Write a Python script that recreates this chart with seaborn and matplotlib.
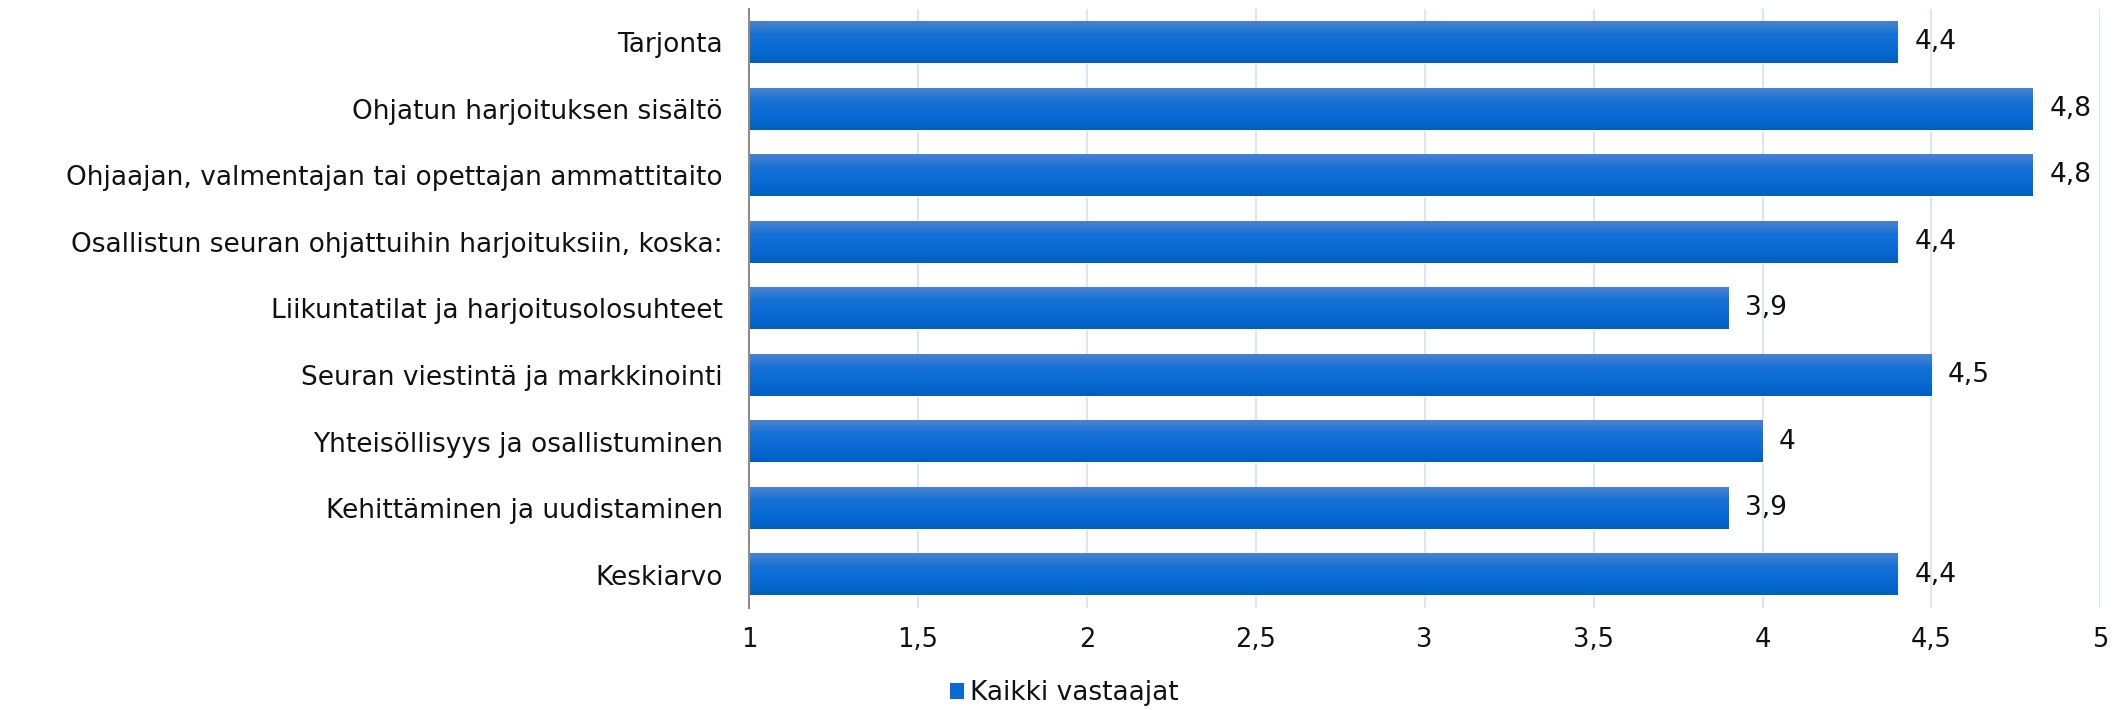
import numpy as np
import pandas as pd
import matplotlib
matplotlib.use("Agg")
import matplotlib.pyplot as plt
import seaborn as sns
from matplotlib.patches import Patch

categories = [
    "Tarjonta",
    "Ohjatun harjoituksen sisältö",
    "Ohjaajan, valmentajan tai opettajan ammattitaito",
    "Osallistun seuran ohjattuihin harjoituksiin, koska:",
    "Liikuntatilat ja harjoitusolosuhteet",
    "Seuran viestintä ja markkinointi",
    "Yhteisöllisyys ja osallistuminen",
    "Kehittäminen ja uudistaminen",
    "Keskiarvo",
]
values = [4.4, 4.8, 4.8, 4.4, 3.9, 4.5, 4.0, 3.9, 4.4]
xticks = [1, 1.5, 2, 2.5, 3, 3.5, 4, 4.5, 5]
xtick_labels = ["1", "1,5", "2", "2,5", "3", "3,5", "4", "4,5", "5"]
series_name = "Kaikki vastaajat"

sns.set_theme(style="white")
plt.rcParams['font.family'] = ['DejaVu Sans']
plt.rcParams['text.color'] = '#111111'

df = pd.DataFrame({"cat": categories, "val": values})

fig = plt.figure(figsize=(21.28, 7.10), dpi=100)
ax = fig.add_axes([0.352, 0.144, 0.635, 0.843])

sns.barplot(data=df, x="val", y="cat", orient="h", color="#0a6ad4",
            width=0.63, ax=ax, zorder=2)

# gradient overlay per bar
cmap = matplotlib.colors.LinearSegmentedColormap.from_list(
    "g", ["#4a82cf", "#1471d6", "#0a6ad4", "#0060c0"])
grad = np.linspace(0, 1, 100).reshape(-1, 1)
for p in ax.patches:
    x0, y0 = p.get_x(), p.get_y()
    w, h = p.get_width(), p.get_height()
    ax.imshow(grad, extent=[x0, x0 + w, y0 + h, y0], aspect="auto",
              cmap=cmap, zorder=3, origin="upper")

ax.set_xlim(1, 5)
ax.set_ylim(len(categories) - 0.5, -0.5)
ax.set_xticks(xticks)
ax.set_xticklabels(xtick_labels, fontsize=18.5)
ax.tick_params(axis="y", labelsize=19, length=0, pad=19)
ax.tick_params(axis="x", length=0, pad=14)
for t in ax.get_yticklabels() + ax.get_xticklabels():
    t.set_color("#111111")
ax.set_xlabel("")
ax.set_ylabel("")
ax.grid(axis="x", color="#dce6f2", linewidth=1.5, zorder=0)
ax.set_axisbelow(True)
for s in ["top", "right", "bottom"]:
    ax.spines[s].set_visible(False)
ax.spines["left"].set_color("#8c8c8c")
ax.spines["left"].set_linewidth(1.5)
ax.spines["left"].set_zorder(5)

for i, v in enumerate(values):
    lab = f"{v:g}".replace(".", ",")
    ax.annotate(lab, (v, i), xytext=(12, 0), textcoords="offset points",
                va="center", ha="left", fontsize=19, color="#111111")

handles = [Patch(facecolor="#0a6ad4", edgecolor="none", label=series_name)]
leg = fig.legend(handles=handles, loc="center", bbox_to_anchor=(0.5, 0.024),
                 frameon=False, fontsize=19, handlelength=0.55, handleheight=0.55,
                 handletextpad=0.2, borderpad=0, borderaxespad=0)
for t in leg.get_texts():
    t.set_color("#111111")

fig.savefig("out.png", dpi=100)
